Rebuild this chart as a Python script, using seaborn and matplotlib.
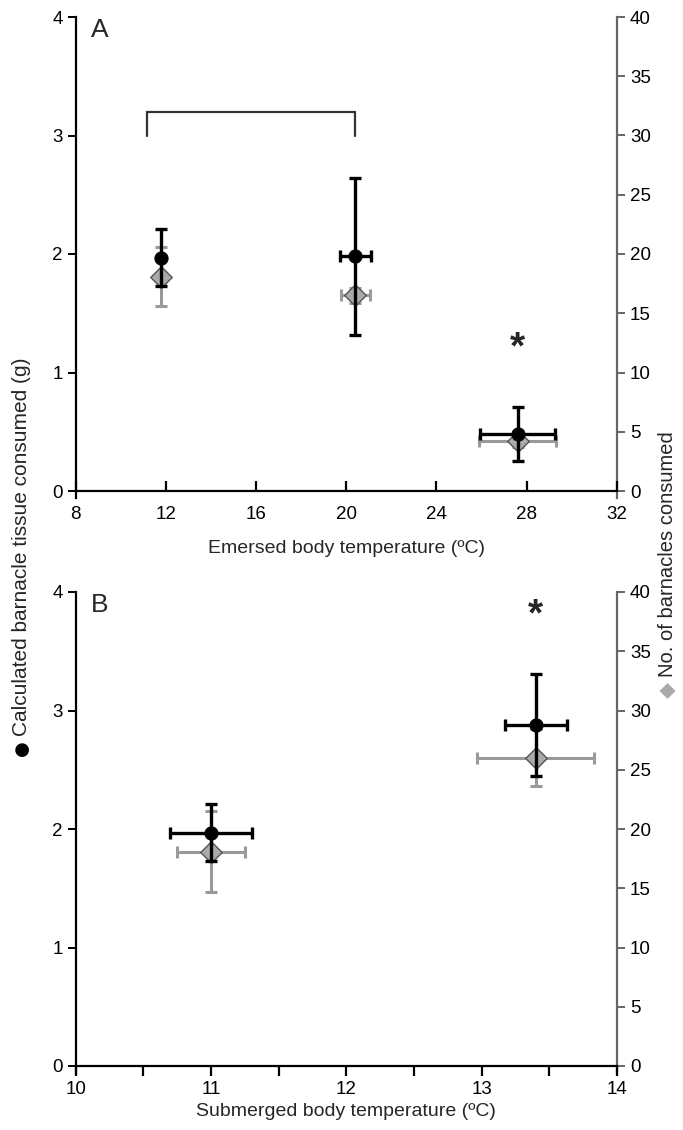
import matplotlib
matplotlib.use("Agg")
import matplotlib.pyplot as plt
import seaborn as sns
import numpy as np
import pandas as pd

# panel A: emersed body temperature
a_temp = [11.8, 20.4, 27.6]
a_temp_err = [0.0, 0.69, 1.67]
a_tissue = [1.97, 1.98, 0.48]
a_tissue_err = [0.24, 0.66, 0.23]
a_count = [18.1, 16.5, 4.2]
a_count_err = [2.5, 0.6, 0.5]
a_count_xerr = [0.0, 0.65, 1.7]

# panel B: submerged body temperature
b_temp = [11.0, 13.4]
b_temp_err = [0.3, 0.23]
b_tissue = [1.97, 2.88]
b_tissue_err = [0.24, 0.43]
b_count = [18.1, 26.0]
b_count_err = [3.4, 2.4]
b_count_xerr = [0.25, 0.43]

a_xticks = [8, 12, 16, 20, 24, 28, 32]
b_xticks = [10, 11, 12, 13, 14]
left_ticks = [0, 1, 2, 3, 4]
right_ticks = [0, 5, 10, 15, 20, 25, 30, 35, 40]

sns.set_theme(style="ticks")
plt.rcParams['font.family'] = ['Liberation Sans', 'DejaVu Sans']
plt.rcParams['font.size'] = 13.5

BLACK = "#000000"
GREY = "#9a9a9a"
GREY_FACE = "#aaaaaa"
SPINE_GREY = "#666666"

fig = plt.figure(figsize=(6.83, 11.3), dpi=100)
axA = fig.add_axes([0.111, 1 - 491 / 1130, 0.792, 474 / 1130])
axB = fig.add_axes([0.111, 1 - 1066 / 1130, 0.792, 474 / 1130])


def draw_panel(ax, temp, temp_err, tissue, tissue_err, count, count_err, count_xerr,
               xlim, xticks, xlabel, letter, tick_dir, xpad, labelpad):
    ax2 = ax.twinx()
    # black series: tissue (left axis)
    ax.errorbar(temp, tissue, yerr=tissue_err, xerr=temp_err, fmt="none",
                ecolor=BLACK, elinewidth=2.4, capsize=4, capthick=2.4, zorder=2)
    df1 = pd.DataFrame({"temp": temp, "val": tissue})
    sns.scatterplot(data=df1, x="temp", y="val", ax=ax, color=BLACK, marker="o",
                    s=90, edgecolor=BLACK, zorder=4)
    # grey series: counts (right axis)
    ax2.errorbar(temp, count, yerr=count_err, xerr=count_xerr, fmt="none",
                 ecolor=GREY, elinewidth=2.2, capsize=4, capthick=2.2, zorder=3)
    df2 = pd.DataFrame({"temp": temp, "val": count})
    sns.scatterplot(data=df2, x="temp", y="val", ax=ax2, color=GREY_FACE, marker="D",
                    s=120, edgecolor="#555555", linewidth=1.0, zorder=5)

    ax.set_xlim(*xlim)
    ax.set_ylim(0, 4)
    ax2.set_ylim(0, 40)
    ax.set_xticks(xticks)
    ax.set_yticks(left_ticks)
    ax2.set_yticks(right_ticks)
    ax.set_xlabel(xlabel, fontsize=14, labelpad=labelpad)
    ax.set_ylabel("")
    ax2.set_ylabel("")

    for s in ["top", "right"]:
        ax.spines[s].set_visible(False)
    ax2.spines["top"].set_visible(False)
    ax2.spines["left"].set_visible(False)
    ax2.spines["bottom"].set_visible(False)
    ax2.spines["right"].set_color(SPINE_GREY)
    ax2.spines["right"].set_linewidth(1.6)
    # vertical axes run a little past the x axis, as in the original
    ax.spines["left"].set_bounds(-0.06, 4)
    ax2.spines["right"].set_bounds(-0.6, 40)
    ax.spines["left"].set_linewidth(1.6)
    ax.spines["bottom"].set_linewidth(1.6)
    ax.spines["left"].set_color(BLACK)
    ax.spines["bottom"].set_color(BLACK)

    ax.tick_params(axis="y", direction="out", length=6, width=1.4, labelsize=13.5, colors=BLACK)
    ax.tick_params(axis="x", direction=tick_dir, length=7, width=1.6, labelsize=13.5,
                   colors=BLACK, pad=xpad)
    ax2.tick_params(axis="y", direction="out", length=6, width=1.4, labelsize=13.5,
                    color=SPINE_GREY, labelcolor=BLACK)
    ax.text(0.028, 0.997, letter, transform=ax.transAxes, fontsize=19,
            va="top", ha="left")
    ax.set_zorder(ax2.get_zorder() + 1)
    ax.patch.set_visible(False)
    return ax2


axA2 = draw_panel(axA, a_temp, a_temp_err, a_tissue, a_tissue_err, a_count, a_count_err,
                  a_count_xerr, (8, 32), a_xticks, "Emersed body temperature (ºC)", "A", "in",
                  11, 12)
axB2 = draw_panel(axB, b_temp, b_temp_err, b_tissue, b_tissue_err, b_count, b_count_err,
                  b_count_xerr, (10, 14), b_xticks, "Submerged body temperature (ºC)", "B", "out",
                  3.5, 4)

# half-degree minor ticks on panel B
axB.set_xticks([10.5, 11.5, 12.5, 13.5], minor=True)
axB.tick_params(axis="x", which="minor", direction="out", length=7, width=1.6, color=BLACK)

# bracket and significance marks
axA.plot([11.15, 11.15, 20.4, 20.4], [3.0, 3.2, 3.2, 3.0], color="#333333", lw=1.6,
         solid_joinstyle="miter")
axA.text(27.6, 1.2, "*", fontsize=28, fontweight="bold", ha="center", va="center")
axB.text(13.4, 3.8, "*", fontsize=28, fontweight="bold", ha="center", va="center")

# shared axis titles with symbol keys
fig.text(0.032, 1 - 748 / 1130, "●", rotation=90, ha="center", va="center", fontsize=13,
         color=BLACK, family=['DejaVu Sans'])
fig.text(0.032, 1 - 736 / 1130, "Calculated barnacle tissue consumed (g)", rotation=90,
         ha="center", va="bottom", fontsize=15)
fig.text(0.978, 1 - 690 / 1130, "◆", rotation=90, ha="center", va="center", fontsize=15,
         color=GREY_FACE, family=['DejaVu Sans'])
fig.text(0.978, 1 - 677 / 1130, "No. of barnacles consumed", rotation=90,
         ha="center", va="bottom", fontsize=14.5)

fig.savefig("out.png", dpi=100)
